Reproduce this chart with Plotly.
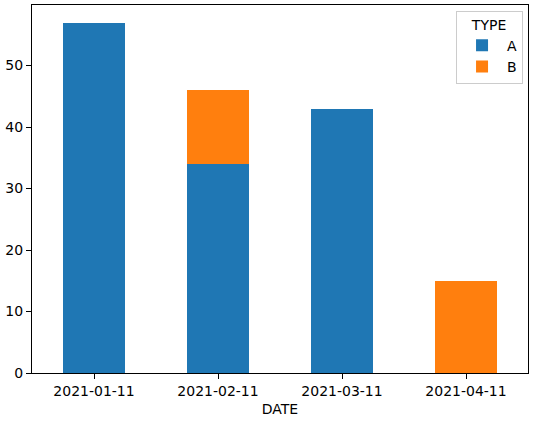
import plotly.graph_objects as go

dates = ["2021-01-11", "2021-02-11", "2021-03-11", "2021-04-11"]
type_a = [57, 34, 43, 0]
type_b = [0, 12, 0, 15]

fig = go.Figure()
fig.add_trace(go.Bar(x=dates, y=type_a, name="A", marker=dict(color="#1f77b4", line=dict(width=0)), width=0.5))
fig.add_trace(go.Bar(x=dates, y=type_b, name="B", marker=dict(color="#ff7f0e", line=dict(width=0)), width=0.5))

axis_common = dict(
    showline=True, linecolor="black", linewidth=1, mirror=True,
    ticks="outside", ticklen=5, tickcolor="black", tickwidth=1,
    showgrid=False, zeroline=False,
    tickfont=dict(family="DejaVu Sans", size=14, color="black"),
)

fig.update_layout(
    barmode="stack",
    width=552, height=422,
    margin=dict(l=32, r=24, t=5, b=49),
    plot_bgcolor="white", paper_bgcolor="white",
    font=dict(family="DejaVu Sans", size=14, color="black"),
    xaxis=dict(type="category", range=[-0.5, 3.5],
               title=dict(text="DATE", standoff=6, font=dict(size=14)), **axis_common),
    yaxis=dict(range=[0, 59.85], tickvals=[0, 10, 20, 30, 40, 50], **axis_common),
    legend=dict(
        title=dict(text="TYPE", side="top center", font=dict(size=14)),
        x=0.99, y=0.985, xanchor="right", yanchor="top",
        bordercolor="#cccccc", borderwidth=1, bgcolor="white",
        font=dict(size=14), traceorder="normal", itemwidth=40,
    ),
    bargap=0,
)

fig.write_html("out.html")
